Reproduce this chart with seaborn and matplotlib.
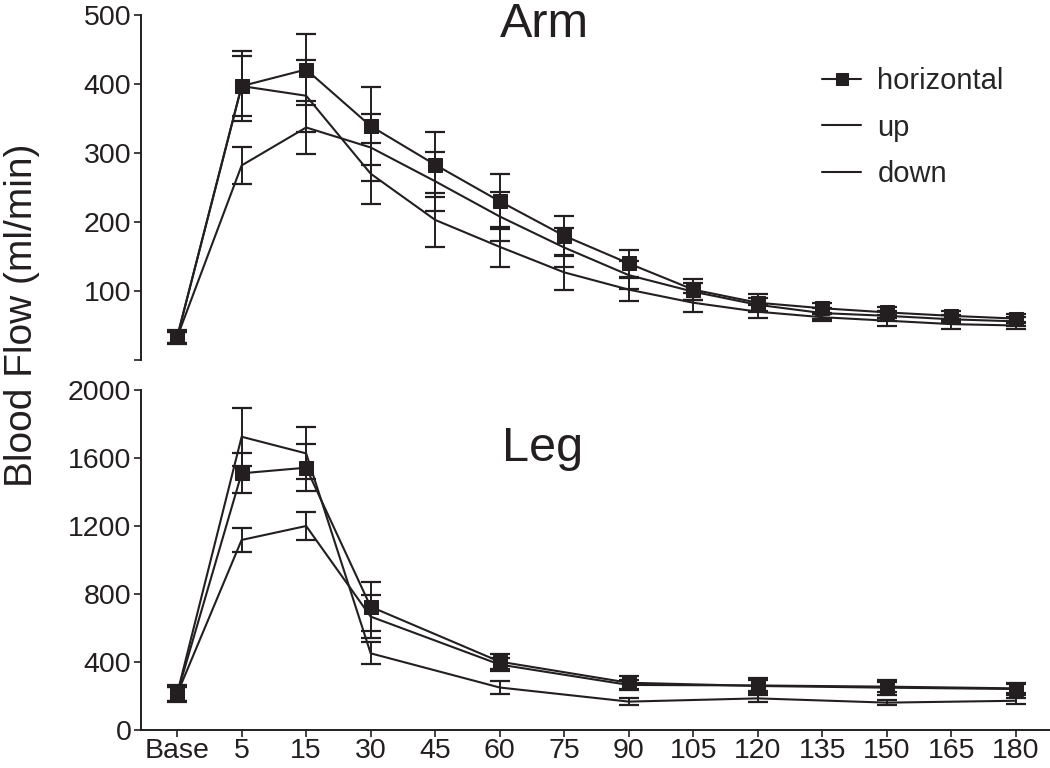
import matplotlib
matplotlib.use("Agg")
import matplotlib.pyplot as plt
import seaborn as sns
import numpy as np
import pandas as pd

# time points (min after release), shared by both panels
time_labels = ['Base', '5', '15', '30', '45', '60', '75', '90', '105', '120', '135', '150', '165', '180']

# Arm blood flow (ml/min), mean and error
arm_horizontal = [33, 397, 421, 339, 283, 230, 180, 140, 102, 83, 75, 69, 64, 60]
arm_horizontal_err = [10, 51, 52, 56, 47, 40, 29, 20, 15, 12, 8, 8, 7, 7]
arm_up = [33, 397, 383, 270, 203, 164, 127, 102, 83, 70, 62, 57, 52, 50]
arm_up_err = [8, 43, 52, 44, 39, 29, 25, 17, 14, 9, 6, 8, 7, 5]
arm_down = [33, 282, 337, 308, 259, 208, 163, 123, 99, 80, 68, 64, 59, 56]
arm_down_err = [8, 27, 38, 48, 43, 35, 28, 20, 12, 10, 8, 7, 6, 6]

# Leg blood flow (ml/min); no measurement at 45, 75, 105, 135, 165
nan = np.nan
leg_horizontal = [212, 1510, 1543, 725, nan, 402, nan, 278, nan, 259, nan, 249, nan, 241]
leg_horizontal_err = [50, 117, 139, 143, nan, 45, nan, 38, nan, 44, nan, 45, nan, 37]
leg_up = [212, 1725, 1627, 451, nan, 250, nan, 167, nan, 186, nan, 161, nan, 172]
leg_up_err = [40, 171, 153, 65, nan, 40, nan, 20, nan, 19, nan, 16, nan, 19]
leg_down = [212, 1118, 1200, 667, nan, 385, nan, 265, nan, 262, nan, 255, nan, 245]
leg_down_err = [40, 72, 84, 128, nan, 40, nan, 30, nan, 30, nan, 30, nan, 25]

INK = '#231f20'

sns.set_style('ticks')
plt.rcParams['font.family'] = ['Liberation Sans', 'DejaVu Sans']
plt.rcParams['axes.linewidth'] = 1.4
plt.rcParams['xtick.major.width'] = 1.2
plt.rcParams['ytick.major.width'] = 1.2
plt.rcParams['xtick.major.size'] = 5
plt.rcParams['ytick.major.size'] = 5
plt.rcParams['xtick.color'] = INK
plt.rcParams['ytick.color'] = INK
plt.rcParams['axes.edgecolor'] = INK


def draw_panel(ax, series):
    x = np.arange(len(time_labels))
    for name, mean, err, marker in series:
        df = pd.DataFrame({'time': x, 'flow': mean, 'err': err}).dropna()
        ax.errorbar(df['time'], df['flow'], yerr=df['err'], fmt='none',
                    ecolor=INK, elinewidth=1.4, capsize=7, capthick=1.6, zorder=2)
        sns.lineplot(data=df, x='time', y='flow', ax=ax, color=INK, linewidth=1.5,
                     marker=marker, markersize=10 if marker else 0,
                     markeredgecolor=INK, markerfacecolor=INK,
                     label=name, legend=False, zorder=3)
    ax.set_xlim(-0.56, 13.53)
    ax.set_xlabel('')
    ax.set_ylabel('')
    ax.tick_params(axis='both', labelsize=20.5, pad=2)


fig = plt.figure(figsize=(10.5, 7.68), dpi=100)
ax_arm = fig.add_axes([141 / 1050, 1 - 360 / 768, 909 / 1050, 345 / 768])
ax_leg = fig.add_axes([141 / 1050, 1 - 730 / 768, 909 / 1050, 340 / 768])

draw_panel(ax_arm, [('horizontal', arm_horizontal, arm_horizontal_err, 's'),
                    ('up', arm_up, arm_up_err, ''),
                    ('down', arm_down, arm_down_err, '')])
draw_panel(ax_leg, [('horizontal', leg_horizontal, leg_horizontal_err, 's'),
                    ('up', leg_up, leg_up_err, ''),
                    ('down', leg_down, leg_down_err, '')])

# Arm panel: only a left axis, bottom tick left unlabeled
ax_arm.set_ylim(0, 500)
ax_arm.set_yticks([0, 100, 200, 300, 400, 500])
ax_arm.set_yticklabels(['', '100', '200', '300', '400', '500'])
ax_arm.set_xticks([])
sns.despine(ax=ax_arm, top=True, right=True, bottom=True)

# Leg panel
ax_leg.set_ylim(0, 2000)
ax_leg.set_yticks([0, 400, 800, 1200, 1600, 2000])
ax_leg.set_xticks(np.arange(len(time_labels)))
ax_leg.set_xticklabels(time_labels)
ax_leg.tick_params(axis='x', pad=1)
sns.despine(ax=ax_leg, top=True, right=True)

ax_arm.text(0.444, 0.936, 'Arm', transform=ax_arm.transAxes, ha='center', va='baseline',
            fontsize=35, color=INK)
ax_leg.text(0.442, 0.79, 'Leg', transform=ax_leg.transAxes, ha='center', va='baseline',
            fontsize=35, color=INK)

fig.text(0.021, 0.59, 'Blood Flow (ml/min)', rotation=90, ha='center', va='center',
         fontsize=28, color=INK)

handles, labels = ax_arm.get_legend_handles_labels()
ax_arm.legend(handles, labels, loc='upper left', bbox_to_anchor=(822 / 1050, 1 - 67 / 768),
              bbox_transform=fig.transFigure, frameon=False, fontsize=21,
              handlelength=1.35, handletextpad=0.55, labelspacing=0.64,
              borderpad=0, borderaxespad=0, markerscale=0.8)

fig.savefig('out.png', dpi=100, facecolor='white')
